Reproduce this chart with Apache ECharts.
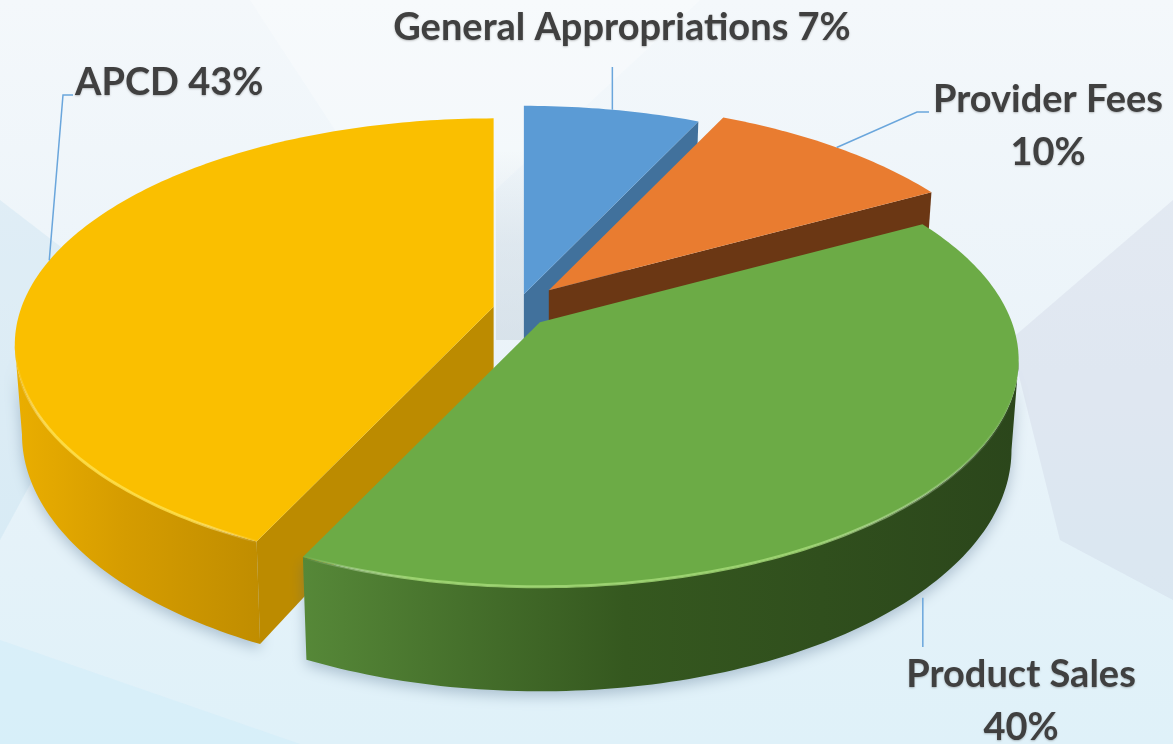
<!DOCTYPE html>
<html>
<head>
<meta charset="utf-8">
<title>Funding sources</title>
<script src="https://cdn.jsdelivr.net/npm/echarts@6/dist/echarts.min.js"></script>
<style>
  html, body { margin: 0; padding: 0; }
  #chart { width: 1173px; height: 744px; }
</style>
</head>
<body>
<div id="chart"></div>
<script>
  // slices, clockwise from 12 o'clock
  const categories = ['General Appropriations', 'Provider Fees', 'Product Sales', 'APCD'];
  const shares = [7, 10, 40, 43];
  const percentLabels = ['7%', '10%', '40%', '43%'];

  const topColors = ['#5b9bd5', '#e97c30', '#6cab46', '#fabf00'];
  const cutColors = ['#41719c', '#6b3714', '#3d6a27', '#bc8b00'];
  const wallShades = [
    ['#4a82b8', '#41719c', '#355d80'],
    ['#c8692a', '#a8561f', '#7a3e16'],
    ['#568838', '#35581f', '#2b461b'],
    ['#eaae00', '#d59c00', '#c08d00']
  ];
  const rimGlow = ['#9cc6ee', '#f7ae78', '#a6dc78', '#ffe24f'];

  // fake 3d camera
  const pie = {
    cx: 518, cy: 310,
    rx: 472, ry: 220,
    persp: 0.168,
    depth: 87,
    taper: 0.985,
    exKy: 0.6
  };
  const explode = [27, 45, 30, 25];

  // where the labels sit (label boxes, not data)
  const labelLayout = [
    { x: 622, y: 28, align: 'center', twoLines: false, knee: null, tip: [null, 67] },
    { x: 1048, y: 126, align: 'center', twoLines: true, knee: [917, 112], tip: [929, 112] },
    { x: 1021, y: 701, align: 'center', twoLines: true, knee: null, tip: [null, 647] },
    { x: 75, y: 83, align: 'left', twoLines: false, knee: [63, 95], tip: [73, 95] }
  ];

  const total = shares.reduce((a, b) => a + b, 0);
  const geom = [];
  let acc = 0;
  shares.forEach((v, i) => {
    const a0 = acc / total * Math.PI * 2;
    acc += v;
    const a1 = acc / total * Math.PI * 2;
    const mid = (a0 + a1) / 2;
    geom.push({
      a0, a1, mid,
      ox: pie.cx + explode[i] * Math.sin(mid),
      oy: pie.cy - explode[i] * Math.cos(mid) * pie.exKy
    });
  });
  // paint back slices first
  geom.map((g, i) => i)
    .sort((a, b) => Math.cos(geom[b].mid) - Math.cos(geom[a].mid))
    .forEach((idx, r) => { geom[idx].rank = r; });

  function topPt(g, a) {
    const s = 1 / (1 + pie.persp * Math.cos(a));
    return [g.ox + pie.rx * Math.sin(a) * s, g.oy - pie.ry * Math.cos(a) * s];
  }
  function botPt(g, a) {
    const s = 1 / (1 + pie.persp * Math.cos(a));
    return [g.ox + pie.rx * Math.sin(a) * s * pie.taper, g.oy - pie.ry * Math.cos(a) * s + pie.depth * s];
  }
  function arc(g, from, to, fn) {
    const n = Math.max(2, Math.ceil(Math.abs(to - from) / (Math.PI / 180)));
    const out = [];
    for (let k = 0; k <= n; k++) out.push(fn(g, from + (to - from) * k / n));
    return out;
  }

  const wallFrom = Math.acos(-pie.persp);
  const wallTo = Math.PI * 2 - wallFrom;

  function renderSlice(params, api) {
    const i = params.dataIndex;
    const g = geom[i];
    const base = g.rank * 10;
    const children = [];

    // outer wall (front part only)
    const lo = Math.max(g.a0, wallFrom), hi = Math.min(g.a1, wallTo);
    if (hi > lo) {
      const pts = arc(g, lo, hi, topPt).concat(arc(g, hi, lo, botPt));
      const xs = pts.map(p => p[0]);
      const x0 = Math.min(...xs), x1 = Math.max(...xs);
      children.push({
        type: 'polygon', z2: base,
        shape: { points: pts },
        style: {
          fill: new echarts.graphic.LinearGradient(x0, 0, x1, 0, [
            { offset: 0, color: wallShades[i][0] },
            { offset: 0.45, color: wallShades[i][1] },
            { offset: 1, color: wallShades[i][2] }
          ], true),
          shadowBlur: 14, shadowOffsetY: 5, shadowColor: 'rgba(70,100,130,0.35)'
        }
      });
      // soft glow along the top edge
      const rim = arc(g, lo, hi, topPt);
      children.push({
        type: 'polyline', z2: base + 3,
        shape: { points: rim },
        style: {
          fill: null, lineWidth: 3,
          stroke: new echarts.graphic.LinearGradient(x0, 0, x1, 0, [
            { offset: 0, color: 'rgba(255,255,255,0)' },
            { offset: 0.15, color: rimGlow[i] },
            { offset: 0.7, color: rimGlow[i] },
            { offset: 1, color: 'rgba(255,255,255,0)' }
          ], true),
          opacity: 0.8
        }
      });
    }

    // radial cut faces that turn toward us
    const apexB = [g.ox, g.oy + pie.depth];
    if (Math.sin(g.a1) > 0.05) {
      children.push({
        type: 'polygon', z2: base + 1,
        shape: { points: [[g.ox, g.oy], topPt(g, g.a1), botPt(g, g.a1), apexB] },
        style: { fill: cutColors[i] }
      });
    }
    if (Math.sin(g.a0) < -0.05) {
      children.push({
        type: 'polygon', z2: base + 1,
        shape: { points: [[g.ox, g.oy], topPt(g, g.a0), botPt(g, g.a0), apexB] },
        style: { fill: cutColors[i] }
      });
    }

    // top face
    children.push({
      type: 'polygon', z2: base + 2,
      shape: { points: [[g.ox, g.oy]].concat(arc(g, g.a0, g.a1, topPt)) },
      style: { fill: topColors[i] }
    });

    // leader line + label
    const lay = labelLayout[i];
    const front = Math.cos(g.mid) < 0;
    const anchor = front ? botPt(g, g.mid) : topPt(g, g.mid);
    if (front) anchor[1] += 7;
    const path = [anchor];
    if (lay.knee) path.push(lay.knee);
    path.push([lay.tip[0] == null ? anchor[0] : lay.tip[0], lay.tip[1]]);
    children.push({
      type: 'polyline', z2: 200,
      shape: { points: path },
      style: { fill: null, stroke: '#6aa6dc', lineWidth: 1.5 }
    });
    children.push({
      type: 'text', z2: 210,
      style: {
        text: categories[i] + (lay.twoLines ? '\n' : ' ') + percentLabels[i],
        x: lay.x, y: lay.y,
        align: lay.align, verticalAlign: 'middle',
        lineHeight: 53,
        font: 'bold 38px Lato, "Open Sans", sans-serif',
        fill: '#404040',
        textShadowColor: 'rgba(0,0,0,0.25)', textShadowBlur: 2, textShadowOffsetY: 1
      }
    });

    return { type: 'group', children };
  }

  const chart = echarts.init(document.getElementById('chart'), null, { renderer: 'canvas' });
  chart.setOption({
    animation: false,
    graphic: [
      {
        type: 'rect', z: -10, silent: true,
        shape: { x: 0, y: 0, width: 1173, height: 744 },
        style: {
          fill: new echarts.graphic.LinearGradient(0, 0, 0, 1, [
            { offset: 0, color: '#f4f8fb' },
            { offset: 0.5, color: '#eaf3f9' },
            { offset: 1, color: '#dff1f9' }
          ])
        }
      },
      {
        type: 'polygon', z: -9, silent: true,
        shape: { points: [[1173, 200], [1010, 340], [1060, 540], [1173, 600]] },
        style: { fill: 'rgba(185,192,215,0.22)' }
      },
      {
        type: 'polygon', z: -9, silent: true,
        shape: { points: [[0, 200], [130, 300], [0, 540]] },
        style: { fill: 'rgba(180,215,235,0.25)' }
      },
      {
        type: 'polygon', z: -9, silent: true,
        shape: { points: [[250, 0], [700, 0], [420, 260]] },
        style: { fill: 'rgba(255,255,255,0.3)' }
      },
      {
        type: 'polygon', z: -9, silent: true,
        shape: { points: [[0, 640], [300, 744], [0, 744]] },
        style: { fill: 'rgba(200,235,248,0.35)' }
      },
      {
        type: 'rect', z: -9, silent: true,
        shape: { x: 496, y: 150, width: 28, height: 190 },
        style: {
          fill: new echarts.graphic.LinearGradient(0, 0, 0, 1, [
            { offset: 0, color: 'rgba(200,212,222,0)' },
            { offset: 0.5, color: 'rgba(200,212,222,0.4)' },
            { offset: 1, color: 'rgba(200,212,222,0.55)' }
          ])
        }
      }
    ],
    series: [{
      type: 'custom',
      coordinateSystem: 'none',
      renderItem: renderSlice,
      data: shares
    }]
  });
</script>
</body>
</html>
